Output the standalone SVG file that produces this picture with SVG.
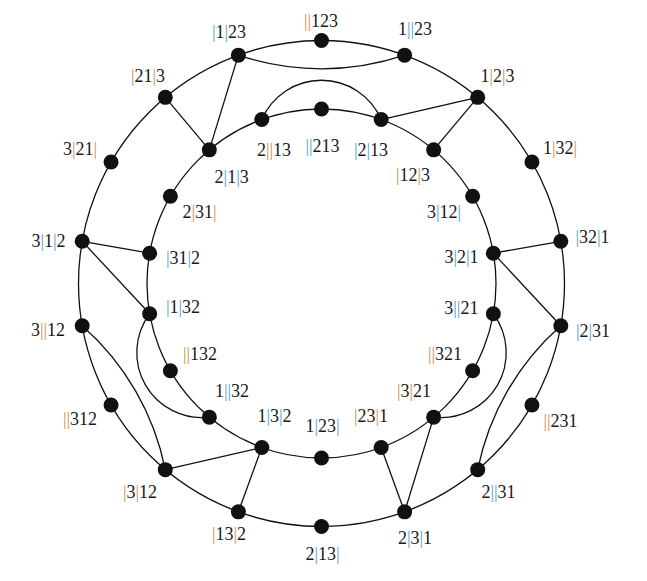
<svg xmlns="http://www.w3.org/2000/svg" width="647" height="581" viewBox="0 0 647 581">
<style>
.lbl{font-family:"Liberation Serif","Times New Roman",serif;font-size:18px;fill:#1a1a1a;text-anchor:middle}
.o{fill:#D98C3F}
.b{fill:#4AA3D8}
.edge{fill:none;stroke:#111;stroke-width:1.3}
.nd{fill:#111}
</style>
<rect width="647" height="581" fill="#fff"/>
<g id="connectors">
<circle class="edge" cx="321.5" cy="283.5" r="243"/>
<circle class="edge" cx="321.5" cy="283.5" r="174.5"/>
<g id="lens-top">
<path class="edge" d="M238.39 55.15 A260 260 0 0 0 404.61 55.15"/>
<path class="edge" d="M261.82 119.52 A65 65 0 0 1 381.18 119.52"/>
</g>
<g transform="rotate(120 321.5 283.5)">
<path class="edge" d="M238.39 55.15 A260 260 0 0 0 404.61 55.15"/>
<path class="edge" d="M261.82 119.52 A65 65 0 0 1 381.18 119.52"/>
</g>
<g transform="rotate(240 321.5 283.5)">
<path class="edge" d="M238.39 55.15 A260 260 0 0 0 404.61 55.15"/>
<path class="edge" d="M261.82 119.52 A65 65 0 0 1 381.18 119.52"/>
</g>
<line class="edge" x1="477.7" y1="97.35" x2="381.18" y2="119.52"/>
<line class="edge" x1="477.7" y1="97.35" x2="433.67" y2="149.83"/>
<line class="edge" x1="560.81" y1="241.3" x2="493.35" y2="253.2"/>
<line class="edge" x1="560.81" y1="325.7" x2="493.35" y2="253.2"/>
<line class="edge" x1="404.61" y1="511.85" x2="433.67" y2="417.17"/>
<line class="edge" x1="404.61" y1="511.85" x2="381.18" y2="447.48"/>
<line class="edge" x1="238.39" y1="511.85" x2="261.82" y2="447.48"/>
<line class="edge" x1="165.3" y1="469.65" x2="261.82" y2="447.48"/>
<line class="edge" x1="82.19" y1="241.3" x2="149.65" y2="253.2"/>
<line class="edge" x1="82.19" y1="241.3" x2="149.65" y2="313.8"/>
<line class="edge" x1="165.3" y1="97.35" x2="209.33" y2="149.83"/>
<line class="edge" x1="238.39" y1="55.15" x2="209.33" y2="149.83"/>
</g>
<!-- outer nodes -->
<g id="o0"><circle class="nd" cx="321.5" cy="40.5" r="7.5"/><text class="lbl" x="321" y="26.5"><tspan class="o">||</tspan>123</text></g>
<g id="o20"><circle class="nd" cx="404.61" cy="55.15" r="7.5"/><text class="lbl" x="415" y="35">1<tspan class="b">||</tspan>23</text></g>
<g id="o40"><circle class="nd" cx="477.7" cy="97.35" r="7.5"/><text class="lbl" x="497.5" y="82">1<tspan class="o">|</tspan>2<tspan class="o">|</tspan>3</text></g>
<g id="o60"><circle class="nd" cx="531.94" cy="162" r="7.5"/><text class="lbl" x="560" y="154">1<tspan class="o">|</tspan>32<tspan class="o">|</tspan></text></g>
<g id="o80"><circle class="nd" cx="560.81" cy="241.3" r="7.5"/><text class="lbl" x="592.5" y="243"><tspan class="b">|</tspan>32<tspan class="b">|</tspan>1</text></g>
<g id="o100"><circle class="nd" cx="560.81" cy="325.7" r="7.5"/><text class="lbl" x="593" y="337"><tspan class="b">|</tspan>2<tspan class="b">|</tspan>31</text></g>
<g id="o120"><circle class="nd" cx="531.94" cy="405" r="7.5"/><text class="lbl" x="560.5" y="427"><tspan class="o">||</tspan>231</text></g>
<g id="o140"><circle class="nd" cx="477.7" cy="469.65" r="7.5"/><text class="lbl" x="498.5" y="498">2<tspan class="b">||</tspan>31</text></g>
<g id="o160"><circle class="nd" cx="404.61" cy="511.85" r="7.5"/><text class="lbl" x="415" y="544">2<tspan class="b">|</tspan>3<tspan class="b">|</tspan>1</text></g>
<g id="o180"><circle class="nd" cx="321.5" cy="526.5" r="7.5"/><text class="lbl" x="322.5" y="560">2<tspan class="b">|</tspan>13<tspan class="b">|</tspan></text></g>
<g id="o200"><circle class="nd" cx="238.39" cy="511.85" r="7.5"/><text class="lbl" x="229" y="540"><tspan class="o">|</tspan>13<tspan class="o">|</tspan>2</text></g>
<g id="o220"><circle class="nd" cx="165.3" cy="469.65" r="7.5"/><text class="lbl" x="140" y="497.5"><tspan class="o">|</tspan>3<tspan class="o">|</tspan>12</text></g>
<g id="o240"><circle class="nd" cx="111.06" cy="405" r="7.5"/><text class="lbl" x="80" y="425"><tspan class="o">||</tspan>312</text></g>
<g id="o260"><circle class="nd" cx="82.19" cy="325.7" r="7.5"/><text class="lbl" x="48" y="336">3<tspan class="o">||</tspan>12</text></g>
<g id="o280"><circle class="nd" cx="82.19" cy="241.3" r="7.5"/><text class="lbl" x="48.5" y="246.5">3<tspan class="b">|</tspan>1<tspan class="b">|</tspan>2</text></g>
<g id="o300"><circle class="nd" cx="111.06" cy="162" r="7.5"/><text class="lbl" x="80" y="155">3<tspan class="o">|</tspan>21<tspan class="o">|</tspan></text></g>
<g id="o320"><circle class="nd" cx="165.3" cy="97.35" r="7.5"/><text class="lbl" x="148" y="81.7"><tspan class="o">|</tspan>21<tspan class="o">|</tspan>3</text></g>
<g id="o340"><circle class="nd" cx="238.39" cy="55.15" r="7.5"/><text class="lbl" x="229" y="37.5"><tspan class="b">|</tspan>1<tspan class="b">|</tspan>23</text></g>
<!-- inner nodes -->
<g id="i0"><circle class="nd" cx="321.5" cy="109" r="7.5"/><text class="lbl" x="322.5" y="151.5"><tspan class="b">||</tspan>213</text></g>
<g id="i20"><circle class="nd" cx="381.18" cy="119.52" r="7.5"/><text class="lbl" x="371" y="155.7"><tspan class="b">|</tspan>2<tspan class="b">|</tspan>13</text></g>
<g id="i40"><circle class="nd" cx="433.67" cy="149.83" r="7.5"/><text class="lbl" x="413" y="180.5"><tspan class="o">|</tspan>12<tspan class="o">|</tspan>3</text></g>
<g id="i60"><circle class="nd" cx="472.62" cy="196.25" r="7.5"/><text class="lbl" x="444" y="218">3<tspan class="b">|</tspan>12<tspan class="b">|</tspan></text></g>
<g id="i80"><circle class="nd" cx="493.35" cy="253.2" r="7.5"/><text class="lbl" x="461.5" y="263">3<tspan class="b">|</tspan>2<tspan class="b">|</tspan>1</text></g>
<g id="i100"><circle class="nd" cx="493.35" cy="313.8" r="7.5"/><text class="lbl" x="461.3" y="314">3<tspan class="b">||</tspan>21</text></g>
<g id="i120"><circle class="nd" cx="472.62" cy="370.75" r="7.5"/><text class="lbl" x="445" y="360"><tspan class="o">||</tspan>321</text></g>
<g id="i140"><circle class="nd" cx="433.67" cy="417.17" r="7.5"/><text class="lbl" x="414" y="397"><tspan class="o">|</tspan>3<tspan class="o">|</tspan>21</text></g>
<g id="i160"><circle class="nd" cx="381.18" cy="447.48" r="7.5"/><text class="lbl" x="371" y="421.5"><tspan class="o">|</tspan>23<tspan class="o">|</tspan>1</text></g>
<g id="i180"><circle class="nd" cx="321.5" cy="458" r="7.5"/><text class="lbl" x="322.5" y="431.5">1<tspan class="b">|</tspan>23<tspan class="b">|</tspan></text></g>
<g id="i200"><circle class="nd" cx="261.82" cy="447.48" r="7.5"/><text class="lbl" x="274.5" y="421.5">1<tspan class="b">|</tspan>3<tspan class="b">|</tspan>2</text></g>
<g id="i220"><circle class="nd" cx="209.33" cy="417.17" r="7.5"/><text class="lbl" x="232" y="396.5">1<tspan class="b">||</tspan>32</text></g>
<g id="i240"><circle class="nd" cx="170.38" cy="370.75" r="7.5"/><text class="lbl" x="200" y="360"><tspan class="o">||</tspan>132</text></g>
<g id="i260"><circle class="nd" cx="149.65" cy="313.8" r="7.5"/><text class="lbl" x="183" y="313"><tspan class="b">|</tspan>1<tspan class="b">|</tspan>32</text></g>
<g id="i280"><circle class="nd" cx="149.65" cy="253.2" r="7.5"/><text class="lbl" x="183" y="264"><tspan class="b">|</tspan>31<tspan class="b">|</tspan>2</text></g>
<g id="i300"><circle class="nd" cx="170.38" cy="196.25" r="7.5"/><text class="lbl" x="199.5" y="218">2<tspan class="o">|</tspan>31<tspan class="o">|</tspan></text></g>
<g id="i320"><circle class="nd" cx="209.33" cy="149.83" r="7.5"/><text class="lbl" x="231.7" y="182.5">2<tspan class="b">|</tspan>1<tspan class="b">|</tspan>3</text></g>
<g id="i340"><circle class="nd" cx="261.82" cy="119.52" r="7.5"/><text class="lbl" x="274" y="155.5">2<tspan class="o">||</tspan>13</text></g>
</svg>
